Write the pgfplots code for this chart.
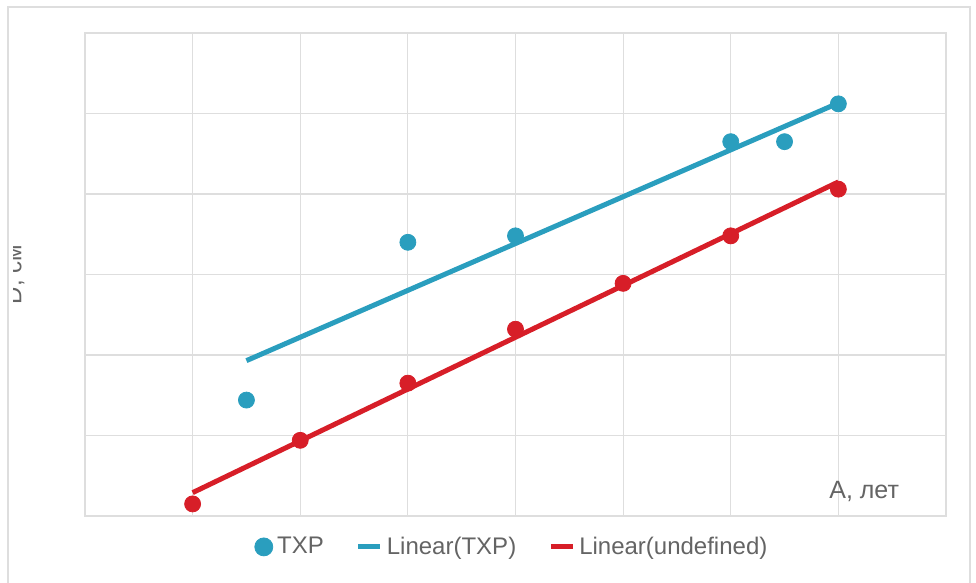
\documentclass[border=0pt]{standalone}
\usepackage{pgfplots}
\pgfplotsset{compat=1.18}
\usepackage{fontspec}
\setmainfont{Liberation Sans}
\definecolor{cblue}{RGB}{42,158,190}
\definecolor{cred}{RGB}{215,30,40}
\definecolor{cgrid}{RGB}{222,222,222}
\definecolor{ctext}{RGB}{100,100,100}
\begin{document}
\begin{tikzpicture}
\useasboundingbox (-42.5pt,-33.5pt) rectangle (445.5pt,258pt);
\draw[draw=cgrid, line width=0.6pt] (-38.5pt,-45pt) -- (-38.5pt,254.5pt) -- (442.5pt,254.5pt) -- (442.5pt,-45pt);
\begin{scope}
\clip (-35.5pt,-30pt) rectangle (0pt,250pt);
\node[rotate=90, anchor=south, text=ctext, font=\fontsize{12}{14}\selectfont] at (-26.7pt,120.75pt) {D, см};
\end{scope}
\begin{axis}[
  at={(0pt,0pt)}, anchor=south west,
  scale only axis,
  width=430.5pt, height=241.5pt,
  xmin=0, xmax=8, ymin=0, ymax=6,
  xtick={0,...,8}, ytick={0,...,6},
  xticklabels={}, yticklabels={},
  major tick length=0pt,
  grid=major,
  grid style={draw=cgrid, line width=0.6pt},
  axis line style={draw=cgrid, line width=0.6pt},
  clip=false,
  legend columns=-1,
  legend style={at={(rel axis cs:0.497,-0.064)}, anchor=center, draw=none, fill=none,
    font=\fontsize{12}{14}\selectfont, text=ctext,
    /tikz/every even column/.append style={column sep=14pt}},
  legend cell align=left,
  legend image code/.code={\draw[#1] (0pt,0pt) -- (11pt,0pt);},
]
\addplot[only marks, mark=*, mark size=4pt, color=cblue,
  legend image code/.code={\fill[cblue] (4pt,0pt) circle (4.5pt);}]
  coordinates {(1.5,1.44) (3,3.40) (4,3.48) (6,4.65) (6.5,4.65) (7,5.12)};
\addlegendentry{TXP}
\addplot[color=cblue, line width=2.5pt] coordinates {(1.5,1.93) (7,5.13)};
\addlegendentry{Linear(TXP)}
\addplot[color=cred, line width=2.5pt] coordinates {(1,0.29) (7,4.15)};
\addlegendentry{Linear(undefined)}
\addplot[only marks, mark=*, mark size=4pt, color=cred, forget plot]
  coordinates {(1,0.15) (2,0.94) (3,1.65) (4,2.32) (5,2.89) (6,3.48) (7,4.06)};
\node[text=ctext, font=\fontsize{12.5}{14}\selectfont] at (axis cs:7.24,0.30) {A, лет};
\end{axis}
\end{tikzpicture}
\end{document}
